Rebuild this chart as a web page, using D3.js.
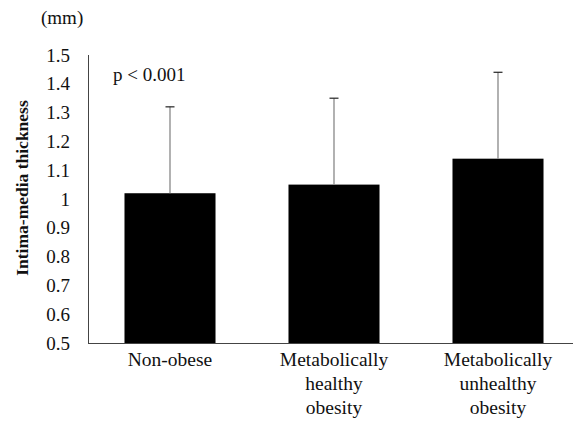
<!DOCTYPE html>
<html><head><meta charset="utf-8">
<script src="https://cdn.jsdelivr.net/npm/d3@7"></script>
<style>body{margin:0;background:#fff}svg{display:block}text{font-family:"Liberation Serif","Times New Roman",serif}</style>
</head><body><svg id="c" width="573" height="423"></svg>
<script>
const categories = [["Non-obese"],["Metabolically","healthy","obesity"],["Metabolically","unhealthy","obesity"]];
const values = [1.02, 1.05, 1.14];
const errorTops = [1.32, 1.35, 1.44];
const yTicks = [0.5,0.6,0.7,0.8,0.9,1,1.1,1.2,1.3,1.4,1.5];

const svg = d3.select("#c");
const x = d3.scaleBand().domain(d3.range(categories.length)).range([88, 580]).paddingInner(0.445).paddingOuter(0.2225);
const y = d3.scaleLinear().domain([0.5, 1.5]).range([343, 55]);

// axes
svg.append("line").attr("x1",88.5).attr("x2",88.5).attr("y1",y(1.5)).attr("y2",y(0.5)).attr("stroke","#444").attr("stroke-width",1);
svg.append("line").attr("x1",88).attr("x2",573).attr("y1",343.5).attr("y2",343.5).attr("stroke","#444").attr("stroke-width",1);

svg.selectAll(".yt").data(yTicks).enter().append("text")
  .attr("x",70).attr("y",d=>y(d)).attr("dy","0.35em").attr("text-anchor","end")
  .attr("font-size",19).attr("fill","#111").text(d=>d);

// bars
svg.selectAll(".bar").data(values).enter().append("rect")
  .attr("x",(d,i)=>x(i)).attr("width",x.bandwidth())
  .attr("y",d=>y(d)).attr("height",d=>y(0.5)-y(d)).attr("fill","#000");

// error bars
const eb = svg.selectAll(".eb").data(errorTops).enter().append("g");
eb.append("line").attr("x1",(d,i)=>x(i)+x.bandwidth()/2).attr("x2",(d,i)=>x(i)+x.bandwidth()/2)
  .attr("y1",(d,i)=>y(values[i])).attr("y2",d=>y(d)).attr("stroke","#888").attr("stroke-width",1.3);
eb.append("line").attr("x1",(d,i)=>x(i)+x.bandwidth()/2-4.5).attr("x2",(d,i)=>x(i)+x.bandwidth()/2+4.5)
  .attr("y1",d=>y(d)).attr("y2",d=>y(d)).attr("stroke","#222").attr("stroke-width",1.2);

// category labels
categories.forEach((lines,i)=>{
  const t = svg.append("text").attr("text-anchor","middle").attr("font-size",19.5).attr("fill","#111");
  lines.forEach((l,j)=>t.append("tspan").attr("x",x(i)+x.bandwidth()/2).attr("y",366+j*24).text(l));
});

svg.append("text").attr("x",41).attr("y",24).attr("font-size",19).attr("fill","#111").text("(mm)");
svg.append("text").attr("x",113).attr("y",81).attr("font-size",19).attr("fill","#111").text("p < 0.001");
svg.append("text").attr("transform","translate(28,188) rotate(-90)").attr("text-anchor","middle")
  .attr("font-size",17.5).attr("font-weight","bold").attr("fill","#111").text("Intima-media thickness");
</script></body></html>
